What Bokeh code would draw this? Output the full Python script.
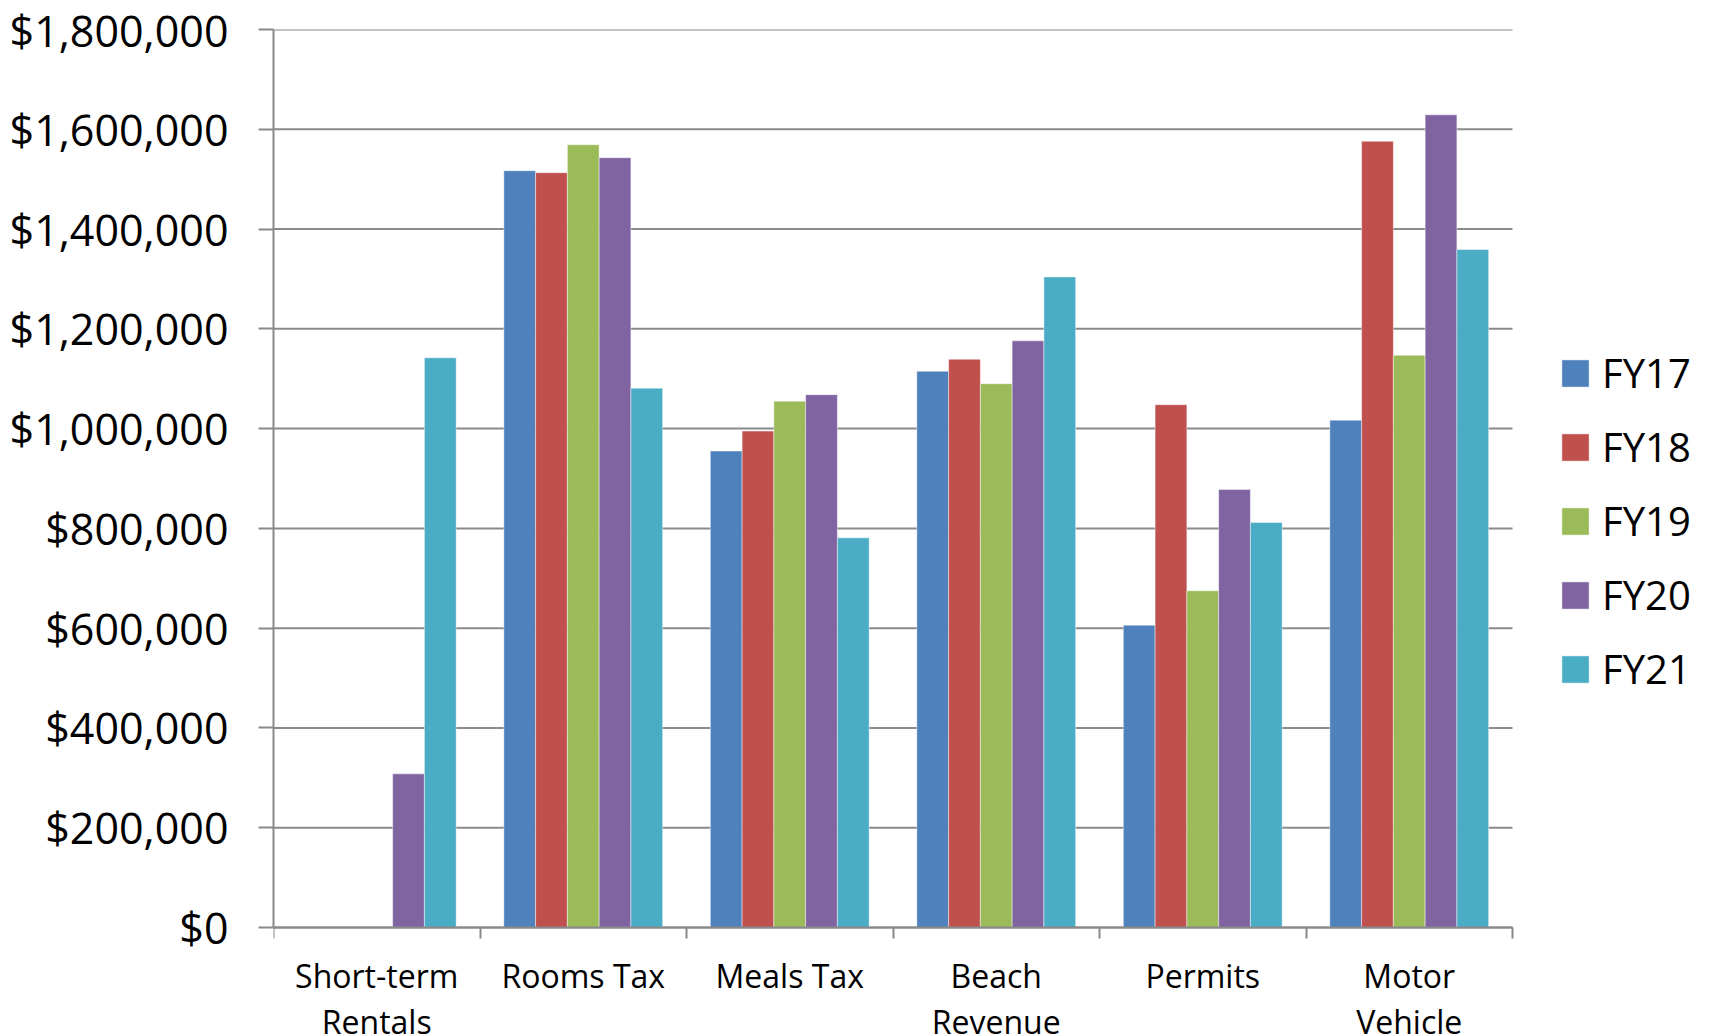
from bokeh.plotting import figure
from bokeh.models import FixedTicker, NumeralTickFormatter, Range1d, ColumnDataSource
from bokeh.transform import dodge
from bokeh.embed import file_html
from bokeh.resources import INLINE
import numpy as np

# Revenue by source, fiscal years 17-21
categories = ["Short-term\nRentals", "Rooms Tax", "Meals Tax",
              "Beach\nRevenue", "Permits", "Motor\nVehicle"]
years = ["FY17", "FY18", "FY19", "FY20", "FY21"]
fy17 = [0, 1517000, 955000, 1115000, 606000, 1017000]
fy18 = [0, 1513000, 995000, 1139000, 1048000, 1576000]
fy19 = [0, 1569000, 1055000, 1090000, 675000, 1147000]
fy20 = [308000, 1543000, 1068000, 1176000, 878000, 1629000]
fy21 = [1142000, 1081000, 781000, 1304000, 812000, 1359000]
colors = ["#4F81BD", "#C0504D", "#9BBB59", "#8064A2", "#4BACC6"]
y_ticks = [0, 200000, 400000, 600000, 800000, 1000000, 1200000,
           1400000, 1600000, 1800000]
y_max = 1800000

series = [fy17, fy18, fy19, fy20, fy21]
n_cat = len(categories)
pos = list(np.arange(n_cat) + 0.5)

data = {"pos": pos}
for name, vals in zip(years, series):
    data[name] = vals
source = ColumnDataSource(data)

FONT = "Open Sans"

# Canvas layout (pixels): the plotting frame spans to the right and bottom
# edges so the category labels and legend can sit outside the value area.
W, H = 1709, 1035
left, top = 273, 29
axis_px = 1239          # width of the category area
value_px = 898          # height of the value area
below_px = H - top - value_px
x_end = n_cat * (W - left) / axis_px
y_start = -y_max * below_px / value_px

p = figure(width=W, height=H, output_backend="svg", toolbar_location=None,
           x_range=Range1d(0, x_end), y_range=Range1d(y_start, y_max),
           min_border_left=left, min_border_right=0, min_border_top=top,
           min_border_bottom=0, outline_line_color=None)

axis_col = "#8A8A8A"

# Horizontal gridlines across the category area only
p.segment(x0=0, x1=n_cat, y0=y_ticks, y1=y_ticks, line_color=axis_col,
          line_width=2)

# Excel-like clustering: gap width 150% of a bar
group_w = len(years) / (len(years) + 1.5)
bar_w = group_w / len(years)
for i, (name, col) in enumerate(zip(years, colors)):
    off = (i - (len(years) - 1) / 2) * bar_w
    p.vbar(x=dodge("pos", off, range=p.x_range), top=name, width=bar_w,
           source=source, fill_color=col, line_color="white", line_alpha=0.45,
           line_width=1, legend_label=name)

p.xgrid.grid_line_color = None
p.ygrid.grid_line_color = None

# Value axis
p.yaxis.bounds = (0, y_max)
p.yaxis.ticker = FixedTicker(ticks=y_ticks)
p.yaxis.formatter = NumeralTickFormatter(format="$0,0")
p.yaxis.axis_line_color = axis_col
p.yaxis.axis_line_width = 2
p.yaxis.major_tick_line_color = axis_col
p.yaxis.major_tick_line_width = 2
p.yaxis.major_tick_out = 15
p.yaxis.major_tick_in = 0
p.yaxis.minor_tick_line_color = None
p.yaxis.major_label_standoff = 30
p.yaxis.major_label_text_font = FONT
p.yaxis.major_label_text_font_size = "43px"
p.yaxis.major_label_text_color = "black"

# Category axis: ticks on the boundaries, labels centred on the groups
xa = p.xaxis[0]
xa.fixed_location = 0
xa.bounds = (0, n_cat)
xa.ticker = FixedTicker(ticks=pos, minor_ticks=list(range(n_cat + 1)))
xa.major_label_overrides = {float(x): c for x, c in zip(pos, categories)}
xa.axis_line_color = axis_col
xa.axis_line_width = 2
xa.major_tick_line_color = None
xa.major_tick_out = 0
xa.major_tick_in = 0
xa.minor_tick_line_color = axis_col
xa.minor_tick_line_width = 2
xa.minor_tick_out = 11
xa.minor_tick_in = 0
xa.major_label_standoff = 15
xa.major_label_text_font = FONT
xa.major_label_text_font_size = "32px"
xa.major_label_text_color = "black"
xa.major_label_text_line_height = 1.08

# Legend to the right of the category area
lg = p.legend[0]
lg.location = (1285, 339)
lg.border_line_color = None
lg.background_fill_alpha = 0
lg.padding = 0
lg.margin = 0
lg.glyph_width = 34
lg.glyph_height = 34
lg.label_height = 34
lg.label_standoff = 10
lg.spacing = 19
lg.label_text_font = FONT
lg.label_text_font_size = "40px"
lg.label_text_color = "black"

open("out.html", "w").write(file_html(p, INLINE))
